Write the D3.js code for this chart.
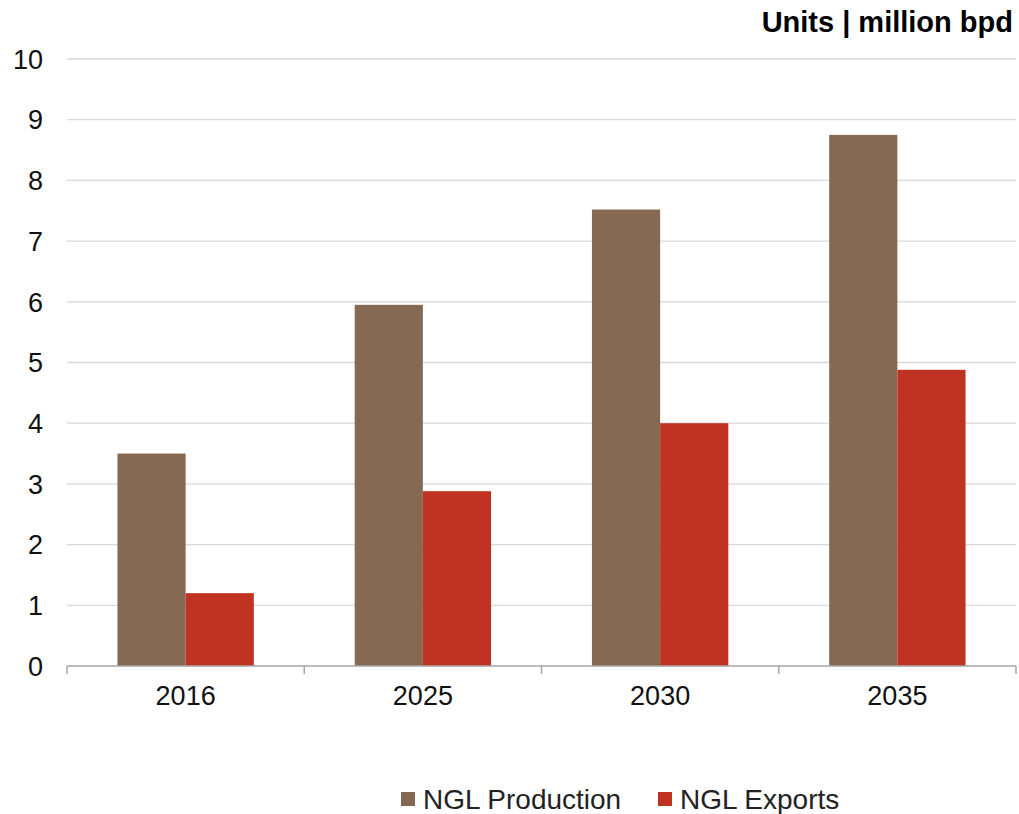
<!DOCTYPE html>
<html>
<head>
<meta charset="utf-8">
<script src="https://cdn.jsdelivr.net/npm/d3@7"></script>
<style>
  body { margin: 0; background: #fff; }
  svg { font-family: "Liberation Sans", Arial, sans-serif; }
</style>
</head>
<body>
<div id="chart"></div>
<script>
var years = ["2016", "2025", "2030", "2035"];
var seriesNames = ["NGL Production", "NGL Exports"];
var production = [3.5, 5.95, 7.52, 8.75];
var exportsVals = [1.2, 2.88, 4.0, 4.88];
var yTicks = [0, 1, 2, 3, 4, 5, 6, 7, 8, 9, 10];
var colors = ["#866952", "#c03221"];

var width = 1019, height = 814;
var margin = {left: 67, right: 3, top: 59, bottom: 148};

var svg = d3.select("#chart").append("svg")
    .attr("width", width)
    .attr("height", height);

var x = d3.scaleBand()
    .domain(years)
    .range([margin.left, width - margin.right]);

var xInner = d3.scaleBand()
    .domain(seriesNames)
    .range([0, x.bandwidth()])
    .paddingInner(0)
    .paddingOuter(0.74);

var y = d3.scaleLinear()
    .domain([0, 10])
    .range([height - margin.bottom, margin.top]);

// grid lines
svg.append("g")
    .selectAll("line")
    .data(yTicks.filter(function(d) { return d > 0; }))
    .enter().append("line")
    .attr("x1", margin.left)
    .attr("x2", width - margin.right)
    .attr("y1", function(d) { return y(d); })
    .attr("y2", function(d) { return y(d); })
    .style("stroke", "#d9d9d9")
    .style("stroke-width", 1.3);

// y labels
svg.append("g")
    .selectAll("text")
    .data(yTicks)
    .enter().append("text")
    .attr("x", 43)
    .attr("y", function(d) { return y(d); })
    .attr("dy", "0.36em")
    .attr("text-anchor", "end")
    .style("font-size", "27px")
    .style("fill", "#111")
    .text(function(d) { return d; });

// bars
var rows = years.map(function(yr, i) {
    return {year: yr, values: [production[i], exportsVals[i]]};
});

var groups = svg.append("g")
    .selectAll("g")
    .data(rows)
    .enter().append("g")
    .attr("transform", function(d) { return "translate(" + x(d.year) + ",0)"; });

groups.selectAll("rect")
    .data(function(d) { return d.values.map(function(v, j) { return {name: seriesNames[j], value: v, i: j}; }); })
    .enter().append("rect")
    .attr("x", function(d) { return xInner(d.name); })
    .attr("width", xInner.bandwidth())
    .attr("y", function(d) { return y(d.value); })
    .attr("height", function(d) { return y(0) - y(d.value); })
    .style("fill", function(d) { return colors[d.i]; });

// x axis
var xAxis = d3.axisBottom(x).tickSize(0).tickPadding(20);
var gx = svg.append("g")
    .attr("transform", "translate(0," + y(0) + ")")
    .call(xAxis);
gx.select(".domain").remove();
gx.selectAll("text")
    .style("font-size", "27px")
    .style("fill", "#111")
    .style("font-family", "Liberation Sans, Arial, sans-serif");

svg.append("line")
    .attr("x1", margin.left)
    .attr("x2", width - margin.right)
    .attr("y1", y(0))
    .attr("y2", y(0))
    .style("stroke", "#a6a6a6")
    .style("stroke-width", 1.5);

var boundaries = years.map(function(d) { return x(d); }).concat([x(years[years.length - 1]) + x.bandwidth()]);
svg.append("g")
    .selectAll("line")
    .data(boundaries)
    .enter().append("line")
    .attr("x1", function(d) { return d; })
    .attr("x2", function(d) { return d; })
    .attr("y1", y(0))
    .attr("y2", y(0) + 8)
    .style("stroke", "#a6a6a6")
    .style("stroke-width", 1.5);

// unit label
svg.append("text")
    .attr("x", 1013)
    .attr("y", 32)
    .attr("text-anchor", "end")
    .style("font-size", "29px")
    .style("font-weight", "bold")
    .style("fill", "#000")
    .text("Units | million bpd");

// legend
var legendPos = [401, 658];
var legend = svg.append("g")
    .selectAll("g")
    .data(seriesNames)
    .enter().append("g")
    .attr("transform", function(d, i) { return "translate(" + legendPos[i] + ",792)"; });

legend.append("rect")
    .attr("width", 14)
    .attr("height", 14)
    .style("fill", function(d, i) { return colors[i]; });

legend.append("text")
    .attr("x", 22)
    .attr("y", 7)
    .attr("dy", "0.36em")
    .style("font-size", "28px")
    .style("fill", "#222")
    .text(function(d) { return d; });
</script>
</body>
</html>
